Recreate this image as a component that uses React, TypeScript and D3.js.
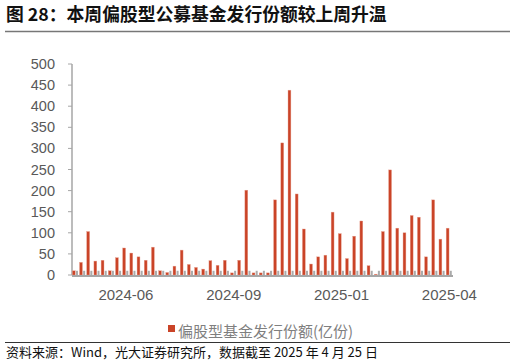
import React from "react";
import * as d3 from "d3";

const redValues = [
  10, 30, 103, 33, 35, 10, 41, 64, 52, 43, 35, 66, 10, 6, 21, 59, 25, 18, 14, 34,
  23, 35, 5, 35, 201, 5, 5, 5, 178, 313, 438, 192, 109, 26, 43, 47, 149, 98, 39, 92,
  128, 22, 2, 103, 249, 111, 100, 141, 137, 43, 178, 85, 111,
];
const grayValues = [
  10, 10, 10, 10, 10, 10, 10, 10, 10, 10, 10, 10, 10, 10, 10, 10, 10, 10, 10, 10,
  10, 10, 10, 10, 10, 10, 10, 10, 10, 10, 10, 10, 10, 10, 10, 10, 10, 10, 10, 10,
  10, 10, 10, 10, 10, 10, 10, 10, 10, 10, 10, 10, 10,
];
const xTickIndex = [7, 22, 37, 52];
const xTickLabels = ["2024-06", "2024-09", "2025-01", "2025-04"];
const yTicks = [0, 50, 100, 150, 200, 250, 300, 350, 400, 450, 500];
const title = "图 28：本周偏股型公募基金发行份额较上周升温";
const legendLabel = "偏股型基金发行份额(亿份)";
const source = "资料来源：Wind，光大证券研究所，数据截至 2025 年 4 月 25 日";

const W = 516;
const H = 363;
const left = 72;
const right = 453;
const top = 64;
const bottom = 275;
const RED = "#CA4428";
const GRAY = "#ABABAB";
const CJK = "'Noto Sans CJK SC', 'Noto Sans', sans-serif";
const NUM = "'Liberation Sans', Arial, sans-serif";

export default function App() {
  const idx = redValues.map((_, i) => i);
  const x = d3.scaleBand<number>().domain(idx).range([left, right]).paddingInner(0).paddingOuter(0);
  const sub = d3.scaleBand<string>().domain(["r", "g"]).range([0, x.bandwidth()]).paddingInner(0.2).paddingOuter(0.1);
  const y = d3.scaleLinear().domain([0, 500]).range([bottom, top]);

  return (
    <svg width={W} height={H} style={{ position: "absolute", left: 0, top: 0, background: "#fff" }}>
      <text x={6} y={21} fontFamily={CJK} fontWeight={700} fontSize={17.8} fill="#111">
        {title}
      </text>
      <line x1={5} x2={510} y1={31.5} y2={31.5} stroke="#777" strokeWidth={1.5} />

      {/* y axis */}
      <line x1={left} x2={left} y1={top} y2={bottom} stroke="#A6A6A6" strokeWidth={1.5} />
      {yTicks.map((t) => (
        <g key={t}>
          <line x1={left - 4} x2={left} y1={y(t)} y2={y(t)} stroke="#A6A6A6" strokeWidth={1} />
          <text x={55} y={y(t)} dy="0.35em" textAnchor="end" fontFamily={NUM} fontSize={14.5} fill="#595959">
            {t}
          </text>
        </g>
      ))}

      {/* bars */}
      {grayValues.map((v, i) => (
        <rect
          key={"g" + i}
          x={(x(i) as number) + (sub("g") as number)}
          width={sub.bandwidth() * 0.7}
          y={y(v)}
          height={bottom - y(v)}
          fill={GRAY}
        />
      ))}
      {redValues.map((v, i) => (
        <rect
          key={"r" + i}
          x={(x(i) as number) + (sub("r") as number)}
          width={sub.bandwidth()}
          y={y(v)}
          height={bottom - y(v)}
          fill={RED}
          stroke="#E8A090"
          strokeWidth={0.4}
        />
      ))}

      {/* x axis */}
      <line x1={left} x2={right} y1={bottom + 1} y2={bottom + 1} stroke="#A6A6A6" strokeWidth={2} />
      {xTickIndex.map((ti, k) => (
        <text
          key={ti}
          x={(x(ti) as number) + x.bandwidth() / 2}
          y={300}
          textAnchor="middle"
          fontFamily={NUM}
          fontSize={15}
          fill="#595959"
        >
          {xTickLabels[k]}
        </text>
      ))}

      {/* legend */}
      <rect x={168} y={325} width={7} height={7} fill={RED} />
      <text x={178} y={337} fontFamily={CJK} fontSize={15} fill="#7F7F7F">
        {legendLabel}
      </text>

      <line x1={5} x2={510} y1={342.5} y2={342.5} stroke="#333" strokeWidth={1} />
      <text x={6} y={357} fontFamily={CJK} fontSize={13} fill="#111">
        {source}
      </text>
    </svg>
  );
}
